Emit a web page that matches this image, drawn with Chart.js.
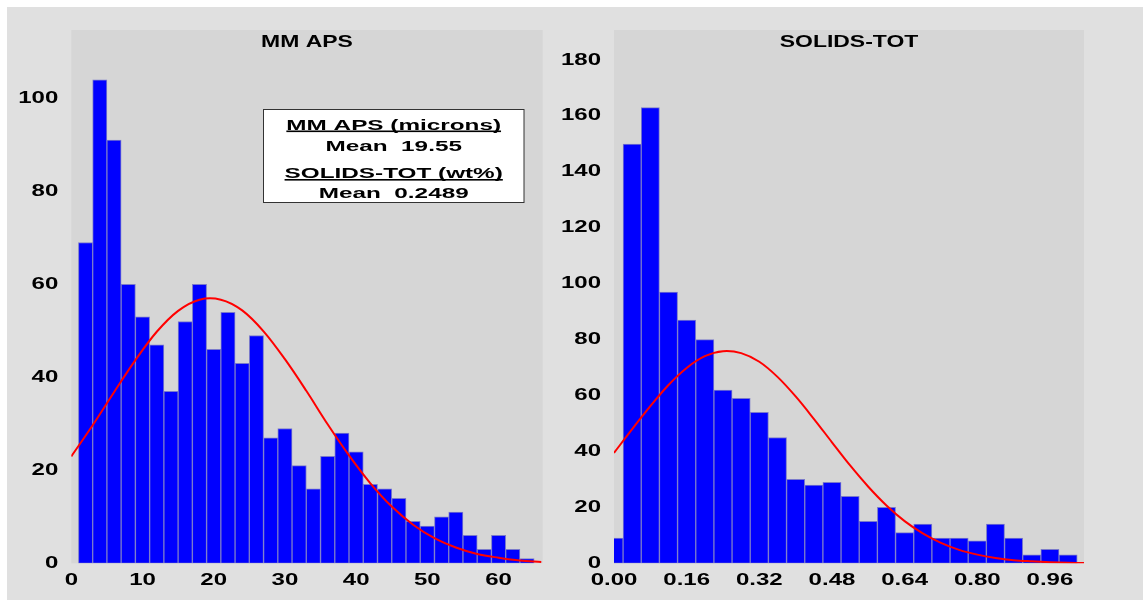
<!DOCTYPE html>
<html>
<head>
<meta charset="utf-8">
<title>MM APS / SOLIDS-TOT</title>
<script src="https://cdn.jsdelivr.net/npm/chart.js@4.4.1/dist/chart.umd.min.js"></script>
<style>
  html, body { margin: 0; padding: 0; background: #ffffff; }
  #frame { position: absolute; left: 7px; top: 7px; width: 1136px; height: 593px; background: #e0e0e0; overflow: hidden; }
  canvas { position: absolute; top: 0; }
  #cLeft { left: 0; }
  #cRight { left: 553px; }
</style>
</head>
<body>
<div id="frame">
  <canvas id="cLeft" width="553" height="593"></canvas>
  <canvas id="cRight" width="583" height="593"></canvas>
</div>
<script>
// ============================================================
// Data
// ============================================================
var apsBinMid = [2, 4, 6, 8, 10, 12, 14, 16, 18, 20, 22, 24, 26, 28, 30, 32,
                 34, 36, 38, 40, 42, 44, 46, 48, 50, 52, 54, 56, 58, 60, 62, 64];
var apsCounts = [69, 104, 91, 60, 53, 47, 37, 52, 60, 46, 54, 43, 49, 27, 29, 21,
                 16, 23, 28, 24, 17, 16, 14, 9, 8, 10, 11, 6, 3, 6, 3, 1];
var apsCurveX = [0, 3, 6, 9, 12, 15, 18, 21, 24, 27, 30, 33, 36, 39, 42, 45, 48, 51, 54, 57, 60, 63, 66];
var apsCurveY = [23.0, 29.7, 36.8, 43.7, 49.8, 54.3, 56.7, 56.7, 54.4, 49.9, 43.9, 37.1,
                 29.9, 23.2, 17.2, 12.2, 8.3, 5.4, 3.4, 2.0, 1.2, 0.6, 0.3];

var solBinMid = [0, 0.04, 0.08, 0.12, 0.16, 0.20, 0.24, 0.28, 0.32, 0.36, 0.40, 0.44, 0.48,
                 0.52, 0.56, 0.60, 0.64, 0.68, 0.72, 0.76, 0.80, 0.84, 0.88, 0.92, 0.96, 1.00];
var solCounts = [9, 150, 163, 97, 87, 80, 62, 59, 54, 45, 30, 28, 29,
                 24, 15, 20, 11, 14, 9, 9, 8, 14, 9, 3, 5, 3];
var solCurveX = [0, 0.04, 0.08, 0.12, 0.16, 0.20, 0.24, 0.28, 0.32, 0.36, 0.40, 0.44, 0.48, 0.52,
                 0.56, 0.60, 0.64, 0.68, 0.72, 0.76, 0.80, 0.84, 0.88, 0.92, 0.96, 1.00, 1.035];
var solCurveY = [39.5, 48.0, 56.2, 63.8, 69.9, 74.1, 75.9, 75.2, 72.1, 66.7, 59.7, 51.7, 43.3, 35.0,
                 27.4, 20.7, 15.1, 10.7, 7.3, 4.8, 3.1, 1.9, 1.1, 0.7, 0.4, 0.2, 0.1];

var panelTitles = ["MM APS", "SOLIDS-TOT"];
var statLines = ["MM APS (microns)", "Mean  19.55", "SOLIDS-TOT (wt%)", "Mean  0.2489"];
var statUnderlined = [true, false, true, false];

// the original renders its bold labels stretched sideways
var TICK_STRETCH = 1.5;

Chart.defaults.font.family = "'Liberation Sans', Arial, sans-serif";
Chart.defaults.color = "#000000";

function toPoints(xs, ys) {
	var out = [];
	for (var i = 0; i < xs.length; i++) {
		out.push({ x: xs[i], y: ys[i] });
	}
	return out;
}

// ============================================================
// Wide text helpers
// ============================================================
function stretchLabels(ctx) {
	if (ctx._plainFill) return;
	var plain = ctx.fillText;
	ctx._plainFill = plain;
	// tick labels from Chart.js go through here, widened around their anchor
	ctx.fillText = function (text, x, y) {
		this.save();
		this.translate(x, y);
		this.scale(TICK_STRETCH, 1);
		plain.call(this, text, 0, 0);
		this.restore();
	};
}

function wideText(ctx, text, x, y, sx, size, underline) {
	ctx.save();
	ctx.font = "bold " + size + "px 'Liberation Sans', Arial, sans-serif";
	ctx.fillStyle = "#000000";
	ctx.translate(x, y);
	ctx.scale(sx, 1);
	ctx.textAlign = "center";
	ctx.textBaseline = "alphabetic";
	ctx._plainFill.call(ctx, text, 0, 0);
	if (underline) {
		var w = ctx.measureText(text).width;
		ctx.fillRect(-w / 2, 1, w, 1.6);
	}
	ctx.restore();
}

// ============================================================
// Plot panel background, title and (optional) stats box
// ============================================================
function makePanel(title, withBox) {
	return {
		id: "panel",
		beforeUpdate: function (chart) {
			stretchLabels(chart.ctx);
		},
		beforeDraw: function (chart) {
			var a = chart.chartArea;
			var ctx = chart.ctx;
			stretchLabels(ctx);
			ctx.save();
			ctx.fillStyle = "#d6d6d6";
			ctx.fillRect(a.left, a.top, a.right - a.left, a.bottom - a.top);
			ctx.restore();
		},
		afterDraw: function (chart) {
			var a = chart.chartArea;
			var ctx = chart.ctx;
			wideText(ctx, title, (a.left + a.right) / 2, a.top + 17.3, 1.35, 17, false);
			if (withBox) {
				ctx.save();
				ctx.fillStyle = "#ffffff";
				ctx.fillRect(256.5, 102.5, 260.5, 93);
				ctx.strokeStyle = "#333333";
				ctx.lineWidth = 1;
				ctx.strokeRect(256.5, 102.5, 260.5, 93);
				ctx.restore();
				var baselines = [122.5, 143.5, 171, 190.5];
				for (var i = 0; i < statLines.length; i++) {
					wideText(ctx, statLines[i], 386.7, baselines[i], 1.62, 15, statUnderlined[i]);
				}
			}
		}
	};
}

function buildChart(canvasId, cfg) {
	return new Chart(document.getElementById(canvasId), {
		type: "bar",
		data: {
			datasets: [{
				type: "line",
				order: 0,
				data: toPoints(cfg.curveX, cfg.curveY),
				borderColor: "#ff0000",
				borderWidth: 2,
				pointRadius: 0,
				tension: 0.35,
				fill: false
			}, {
				type: "bar",
				order: 1,
				data: toPoints(cfg.binMid, cfg.counts),
				backgroundColor: "#0000ff",
				borderColor: "#7a7acb",
				borderWidth: 1,
				borderSkipped: false,
				barPercentage: 1,
				categoryPercentage: 1,
				clip: 0
			}]
		},
		options: {
			responsive: false,
			animation: false,
			events: [],
			layout: { padding: { top: 23, right: cfg.padRight, bottom: 0, left: 0 } },
			plugins: { legend: { display: false }, tooltip: { enabled: false }, title: { display: false } },
			scales: {
				x: {
					type: "linear",
					offset: false,
					min: 0,
					max: cfg.xMax,
					grid: { display: false, drawTicks: false },
					border: { display: false },
					ticks: {
						stepSize: cfg.xStep,
						includeBounds: false,
						autoSkip: false,
						maxRotation: 0,
						padding: 8,
						font: { size: 16, weight: "bold" },
						callback: cfg.xFormat
					},
					afterFit: function (s) { s.height = 36.7; }
				},
				y: {
					min: 0,
					max: cfg.yMax,
					grid: { display: false, drawTicks: false },
					border: { display: false },
					ticks: {
						stepSize: cfg.yStep,
						includeBounds: false,
						padding: 13,
						font: { size: 16, weight: "bold" }
					},
					afterFit: function (s) { s.width = cfg.yWidth; }
				}
			}
		},
		plugins: [makePanel(cfg.title, cfg.box)]
	});
}

buildChart("cLeft", {
	binMid: apsBinMid, counts: apsCounts, curveX: apsCurveX, curveY: apsCurveY,
	xMax: 66.2, xStep: 10, yMax: 114.7, yStep: 20,
	yWidth: 64.3, padRight: 17.3,
	xFormat: function (v) { return String(v); },
	title: panelTitles[0], box: true
});

buildChart("cRight", {
	binMid: solBinMid, counts: solCounts, curveX: solCurveX, curveY: solCurveY,
	xMax: 1.035, xStep: 0.16, yMax: 190.8, yStep: 20,
	yWidth: 54, padRight: 59,
	xFormat: function (v) { return v.toFixed(2); },
	title: panelTitles[1], box: false
});
</script>
</body>
</html>
